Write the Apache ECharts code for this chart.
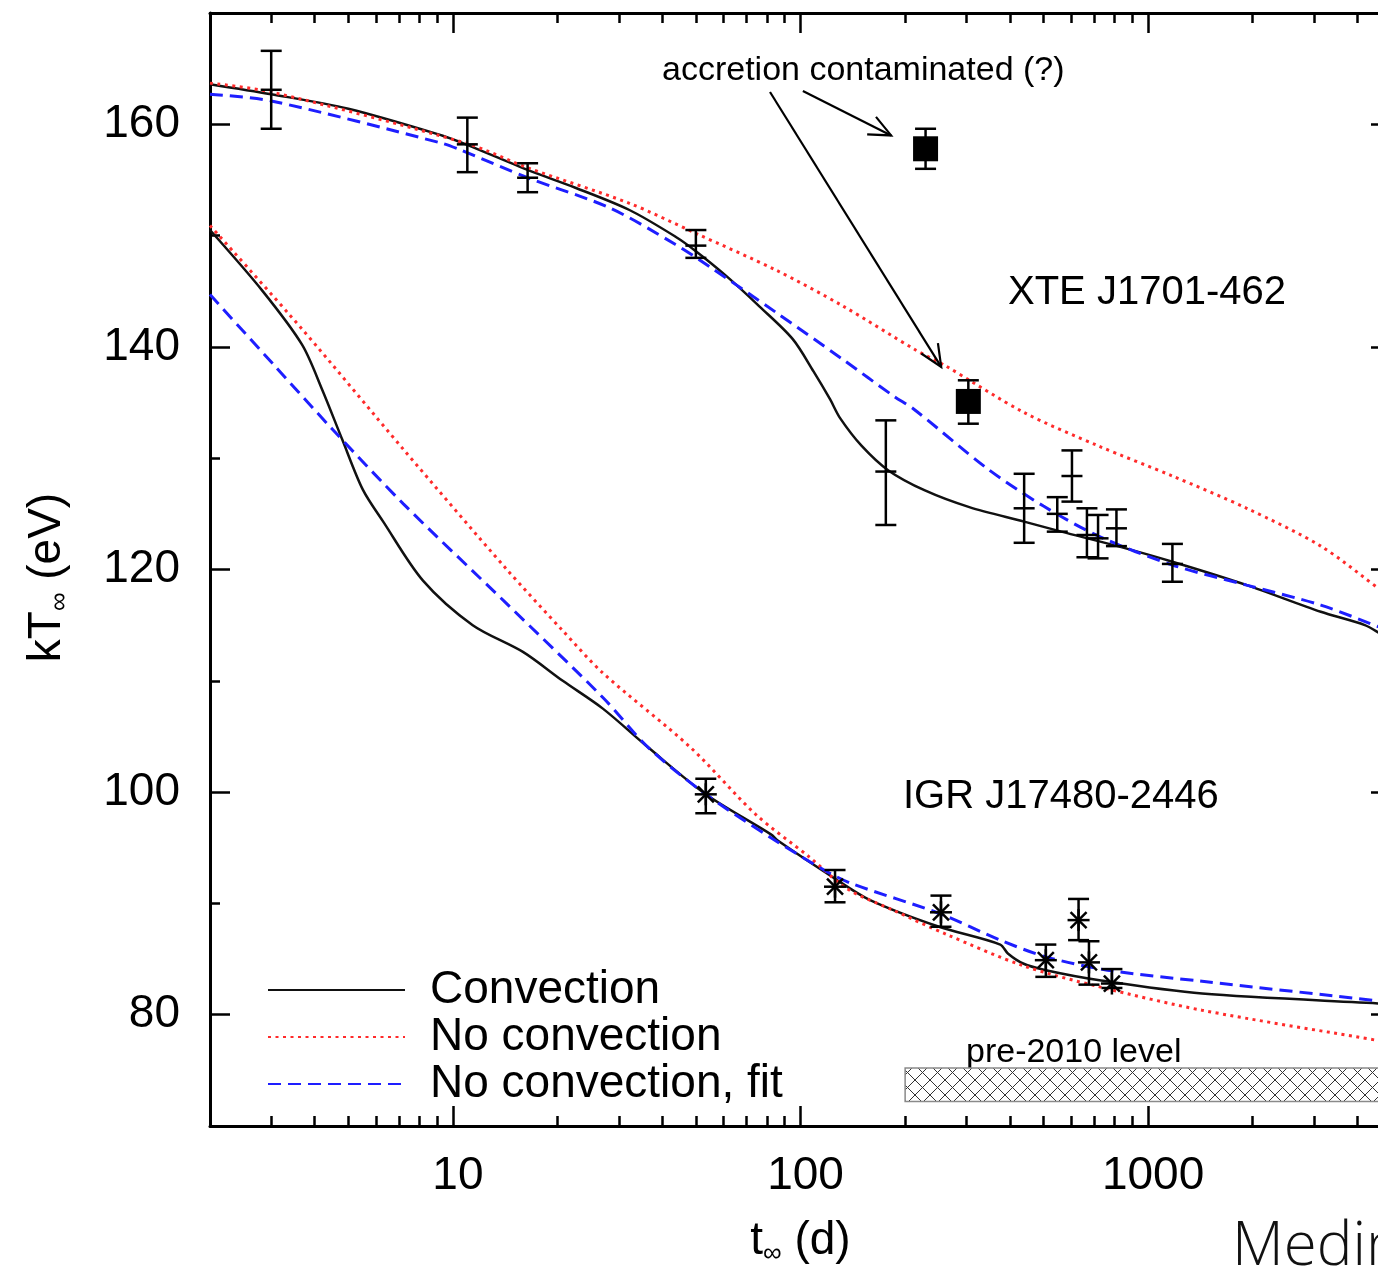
<!DOCTYPE html>
<html>
<head>
<meta charset="utf-8">
<title>Cooling curves</title>
<script src="https://cdn.jsdelivr.net/npm/echarts@6.0.0/dist/echarts.min.js"></script>
<style>
  html, body { margin: 0; padding: 0; background: #fff; }
  #frame { width: 1378px; height: 1272px; overflow: hidden; position: relative; }
  #chart { width: 1391px; height: 1272px; position: absolute; left: 0; top: 0; }
</style>
</head>
<body>
<div id="frame"><div id="chart"></div></div>
<script>
// --- data: t (days) vs kT_inf (eV) ---
const xteConvection = [[2,163.6],[3,162.7],[5,161.4],[9.3,159.0],[10.9,158.2],[16.4,155.9],[22.5,154.3],[32.2,152.3],[43.7,149.9],[50,148.6],[61,146.4],[76.4,143.6],[95,140.7],[109,137.8],[121.6,135.3],[130,133.6],[150,131.1],[179,128.9],[228,127.1],[306,125.6],[440,124.3],[563,123.4],[817,122.1],[1175,120.7],[1922,118.6],[3140,116.2],[4205,115.0],[4740,114.1],[5000,113.8]];
const xteNoConvection = [[2,163.7],[3,162.9],[10.9,158.3],[16.4,156.1],[32.2,152.9],[50,150.2],[85,146.9],[132,143.7],[215,139.7],[258,138.4],[440,134.1],[720,131.1],[1175,128.4],[1922,125.5],[3140,122.1],[4740,118.0],[5000,117.5]];
const xteNoConvectionFit = [[2,162.7],[3,162.1],[9.3,158.3],[10.5,157.7],[16.4,155.2],[28.2,152.5],[43.7,149.2],[54.8,147.2],[85,143.1],[132,138.9],[185,135.6],[212,134.4],[347,129.0],[500,125.7],[720,123.0],[1175,120.4],[1922,118.6],[3140,116.8],[4740,114.7],[5000,114.4]];

const igrConvection = [[2,150.5],[2.82,145.1],[3.68,140.2],[4.2,136.2],[4.8,131.7],[5.5,127.2],[6.3,124.3],[8.2,119.0],[11.4,115.0],[15.9,112.6],[20.7,110.0],[27,107.5],[36.5,104.0],[53.4,99.8],[82.2,96.2],[86.4,95.6],[123.2,92.4],[158.6,90.3],[250.5,87.9],[375.6,86.3],[395,85.5],[437,84.6],[508,84.0],[725,83.1],[1430,81.9],[4740,81.0],[5000,80.95]];
const igrNoConvection = [[2,150.9],[3.68,141.6],[7.2,130.8],[14.2,120.1],[20.7,114.5],[27,110.7],[48.3,104.0],[74.3,98.0],[105.7,94.2],[136.4,91.3],[184.6,89.4],[263.6,87.2],[437,84.4],[725,82.5],[1430,80.4],[4740,77.6],[5000,77.4]];
const igrNoConvectionFit = [[2,144.7],[3.05,138.4],[4.5,132.6],[7.2,125.9],[14.2,117.0],[27,108.5],[36.5,104.0],[53.4,99.8],[82.2,95.9],[116.9,93.0],[139.8,91.8],[250.7,89.1],[375.6,86.7],[508,85.2],[764,84.0],[1430,83.0],[4740,81.2],[5000,81.1]];

// observations: [t, kT, low, high]
const xteObs = [[3,163.1,159.6,166.6],[11.0,158.2,155.7,160.6],[16.4,155.2,153.9,156.5],[50,149.1,148.0,150.5],[176,128.8,124.0,133.4],[440,125.5,122.4,128.6],[548,125.0,123.4,126.5],[604,128.4,126.1,130.7],[667,123.1,121.1,125.5],[718,122.8,121.0,124.9],[811,123.7,122.1,125.4],[1175,120.5,118.9,122.3]];
const xteContaminated = [[229,157.8,156.0,159.6],[304,135.1,133.1,137.0]];
const igrObs = [[53.4,99.8,98.1,101.2],[125.7,91.5,90.1,93.0],[253.6,89.2,87.9,90.7],[508,84.9,83.4,86.3],[631,88.5,86.7,90.4],[676,84.7,82.7,86.6],[787,82.8,82.4,84.1]];

const preLevelBand = [[200, 5000, 72.2, 75.2]];
// annotation arrows: [t0, kT0, t1, kT1]
const annotationArrows = [[81.7,162.9,254,138.2],[101.6,163.0,182.3,159.0]];

const yTickValues = [80, 100, 120, 140, 160];
const yMinorTickValues = [90, 110, 130, 150];
const legendNames = ['Convection', 'No convection', 'No convection, fit'];

const FONT = '"Liberation Sans", Arial, Helvetica, sans-serif';
const black = '#111';
const styles = {
  'Convection': { color: black, width: 2.5, type: 'solid' },
  'No convection': { color: '#ff2b2b', width: 3, type: [3, 4.5] },
  'No convection, fit': { color: '#1e1eff', width: 3, type: [13, 7] }
};

const chart = echarts.init(document.getElementById('chart'));

// hatch pattern for the pre-2010 band
const pat = document.createElement('canvas');
pat.width = 15; pat.height = 15;
const pg = pat.getContext('2d');
pg.fillStyle = '#fff'; pg.fillRect(0, 0, 15, 15);
pg.strokeStyle = '#333'; pg.lineWidth = 1;
pg.beginPath(); pg.moveTo(0, 0); pg.lineTo(15, 15); pg.moveTo(15, 0); pg.lineTo(0, 15); pg.stroke();

function curve(name, data) {
  return {
    type: 'line', name, data, symbol: 'none', showSymbol: false,
    smooth: 0.3,
    lineStyle: styles[name], itemStyle: { color: styles[name].color },
    z: 3, silent: true
  };
}

function errorBars(marker) {
  return function (params, api) {
    const t = api.value(0);
    const c = api.coord([t, api.value(1)]);
    const lo = api.coord([t, api.value(2)]);
    const hi = api.coord([t, api.value(3)]);
    const cap = 10.5;
    const st = { stroke: '#000', lineWidth: 2.5 };
    const seg = (x1, y1, x2, y2) => ({ type: 'line', shape: { x1, y1, x2, y2 }, style: st });
    const kids = [
      seg(c[0], lo[1], c[0], hi[1]),
      seg(c[0] - cap, lo[1], c[0] + cap, lo[1]),
      seg(c[0] - cap, hi[1], c[0] + cap, hi[1])
    ];
    if (marker === 'plus') {
      kids.push(seg(c[0] - cap, c[1], c[0] + cap, c[1]));
    } else if (marker === 'star') {
      const r = 11, d = 8;
      kids.push(seg(c[0] - r, c[1], c[0] + r, c[1]));
      kids.push(seg(c[0], c[1] - r, c[0], c[1] + r));
      kids.push(seg(c[0] - d, c[1] - d, c[0] + d, c[1] + d));
      kids.push(seg(c[0] - d, c[1] + d, c[0] + d, c[1] - d));
    }
    return { type: 'group', children: kids };
  };
}

function obsSeries(name, data, marker) {
  return {
    type: 'custom', name, data, renderItem: errorBars(marker),
    encode: { x: 0, y: 1 }, z: 5, silent: true
  };
}

const option = {
  animation: false,
  backgroundColor: '#fff',
  grid: { left: 210, right: 0, top: 13, bottom: 135, containLabel: false },
  legend: {
    data: legendNames, orient: 'vertical', left: 262, top: 962,
    itemWidth: 137, itemHeight: 2, itemGap: 1, selectedMode: false,
    itemStyle: { opacity: 0 },
    textStyle: { fontSize: 46, fontFamily: FONT, color: '#000', lineHeight: 46, padding: [0, 0, 0, 20] }
  },
  xAxis: [
    {
      type: 'log', logBase: 10, min: 2, max: 5000, position: 'bottom',
      axisLine: { lineStyle: { color: '#000', width: 3 } },
      axisTick: { inside: true, length: 20, lineStyle: { color: '#000', width: 2.5 } },
      minorTick: { show: true, splitNumber: 9, length: 10, lineStyle: { color: '#000', width: 2.5 } },
      axisLabel: {
        fontSize: 46, fontFamily: FONT, color: '#000', margin: 27, padding: [0, 0, 0, 10],
        showMinLabel: false, showMaxLabel: false,
        formatter: v => String(Math.round(v))
      },
      splitLine: { show: false },
      name: '{a|t}{b|∞}{a| (d)}', nameLocation: 'middle', nameGap: 89,
      nameTextStyle: { rich: {
        a: { fontSize: 46, fontFamily: FONT, color: '#000' },
        b: { fontSize: 26, fontFamily: FONT, color: '#000', padding: [26, 0, 0, 0] }
      } }
    },
    {
      type: 'log', logBase: 10, min: 2, max: 5000, position: 'top',
      axisLine: { lineStyle: { color: '#000', width: 3 } },
      axisTick: { inside: true, length: 20, lineStyle: { color: '#000', width: 2.5 } },
      minorTick: { show: true, splitNumber: 9, length: 10, lineStyle: { color: '#000', width: 2.5 } },
      axisLabel: { show: false }, splitLine: { show: false }
    }
  ],
  yAxis: [
    {
      type: 'value', min: 70, max: 170, position: 'left',
      axisLine: { lineStyle: { color: '#000', width: 3 } },
      axisTick: { inside: true, length: 20, customValues: yTickValues, lineStyle: { color: '#000', width: 2.5 } },
      axisLabel: { customValues: yTickValues, fontSize: 46, fontFamily: FONT, color: '#000', margin: 30 },
      splitLine: { show: false },
      name: '{a|kT}{b|∞}{a| (eV)}', nameLocation: 'middle', nameRotate: 90, nameGap: 137,
      nameTextStyle: { padding: [0, 16, 0, 0], rich: {
        a: { fontSize: 46, fontFamily: FONT, color: '#000' },
        b: { fontSize: 26, fontFamily: FONT, color: '#000', padding: [26, 0, 0, 0] }
      } }
    },
    {
      type: 'value', min: 70, max: 170, position: 'right',
      axisLine: { lineStyle: { color: '#000', width: 3 } },
      axisTick: { inside: true, length: 20, customValues: yTickValues, lineStyle: { color: '#000', width: 2.5 } },
      axisLabel: { show: false }, splitLine: { show: false }
    },
    {
      type: 'value', min: 70, max: 170, position: 'left',
      axisLine: { show: false },
      axisTick: { inside: true, length: 10, customValues: yMinorTickValues, lineStyle: { color: '#000', width: 2.5 } },
      axisLabel: { show: false }, splitLine: { show: false }
    },
    {
      type: 'value', min: 70, max: 170, position: 'right',
      axisLine: { show: false },
      axisTick: { inside: true, length: 10, customValues: yMinorTickValues, lineStyle: { color: '#000', width: 2.5 } },
      axisLabel: { show: false }, splitLine: { show: false }
    }
  ],
  series: [
    {
      type: 'custom', name: 'pre-2010 level', data: preLevelBand,
      encode: { x: [0, 1], y: [2, 3] }, silent: true, z: 1,
      renderItem: function (params, api) {
        const p1 = api.coord([api.value(0), api.value(3)]);
        const p2 = api.coord([api.value(1), api.value(2)]);
        return {
          type: 'rect',
          shape: { x: p1[0], y: p1[1], width: p2[0] - p1[0], height: p2[1] - p1[1] },
          style: { fill: { image: pat, repeat: 'repeat' }, stroke: '#8a8a8a', lineWidth: 1.5 }
        };
      }
    },
    curve('Convection', xteConvection),
    curve('No convection', xteNoConvection),
    curve('No convection, fit', xteNoConvectionFit),
    curve('Convection', igrConvection),
    curve('No convection', igrNoConvection),
    curve('No convection, fit', igrNoConvectionFit),
    obsSeries('XTE J1701-462 data', xteObs, 'plus'),
    obsSeries('XTE contaminated bars', xteContaminated, 'none'),
    {
      type: 'scatter', name: 'XTE contaminated', data: xteContaminated.map(d => [d[0], d[1]]),
      symbol: 'rect', symbolSize: 25, itemStyle: { color: '#000', opacity: 1 }, z: 6, silent: true
    },
    obsSeries('IGR J17480-2446 data', igrObs, 'star'),
    {
      type: 'custom', name: 'arrows', data: annotationArrows,
      encode: { x: [0, 2], y: [1, 3] }, silent: true, z: 7,
      renderItem: function (params, api) {
        const a = api.coord([api.value(0), api.value(1)]);
        const b = api.coord([api.value(2), api.value(3)]);
        const ang = Math.atan2(b[1] - a[1], b[0] - a[0]);
        const L = 24, w = 0.42;
        const h1 = [b[0] - L * Math.cos(ang - w), b[1] - L * Math.sin(ang - w)];
        const h2 = [b[0] - L * Math.cos(ang + w), b[1] - L * Math.sin(ang + w)];
        const st = { stroke: '#000', lineWidth: 2.2, fill: null };
        return { type: 'group', children: [
          { type: 'line', shape: { x1: a[0], y1: a[1], x2: b[0], y2: b[1] }, style: st },
          { type: 'polyline', shape: { points: [h1, b, h2] }, style: st }
        ] };
      }
    }
  ],
  graphic: [
    { type: 'text', x: 662, y: 71, style: { text: 'accretion contaminated (?)', fontSize: 34, fontFamily: FONT, fill: '#000', verticalAlign: 'middle' } },
    { type: 'text', x: 1008, y: 293, style: { text: 'XTE J1701-462', fontSize: 40, fontFamily: FONT, fill: '#000', verticalAlign: 'middle' } },
    { type: 'text', x: 903, y: 797, style: { text: 'IGR J17480-2446', fontSize: 40, fontFamily: FONT, fill: '#000', verticalAlign: 'middle' } },
    { type: 'text', x: 966, y: 1053, style: { text: 'pre-2010 level', fontSize: 34, fontFamily: FONT, fill: '#000', verticalAlign: 'middle' } },
    { type: 'text', x: 1232, y: 1248, style: { text: 'Medin et al.', fontSize: 60, fontWeight: 300, fontFamily: '"Open Sans", ' + FONT, fill: '#111', verticalAlign: 'middle' } }
  ]
};

chart.setOption(option);
</script>
</body>
</html>
